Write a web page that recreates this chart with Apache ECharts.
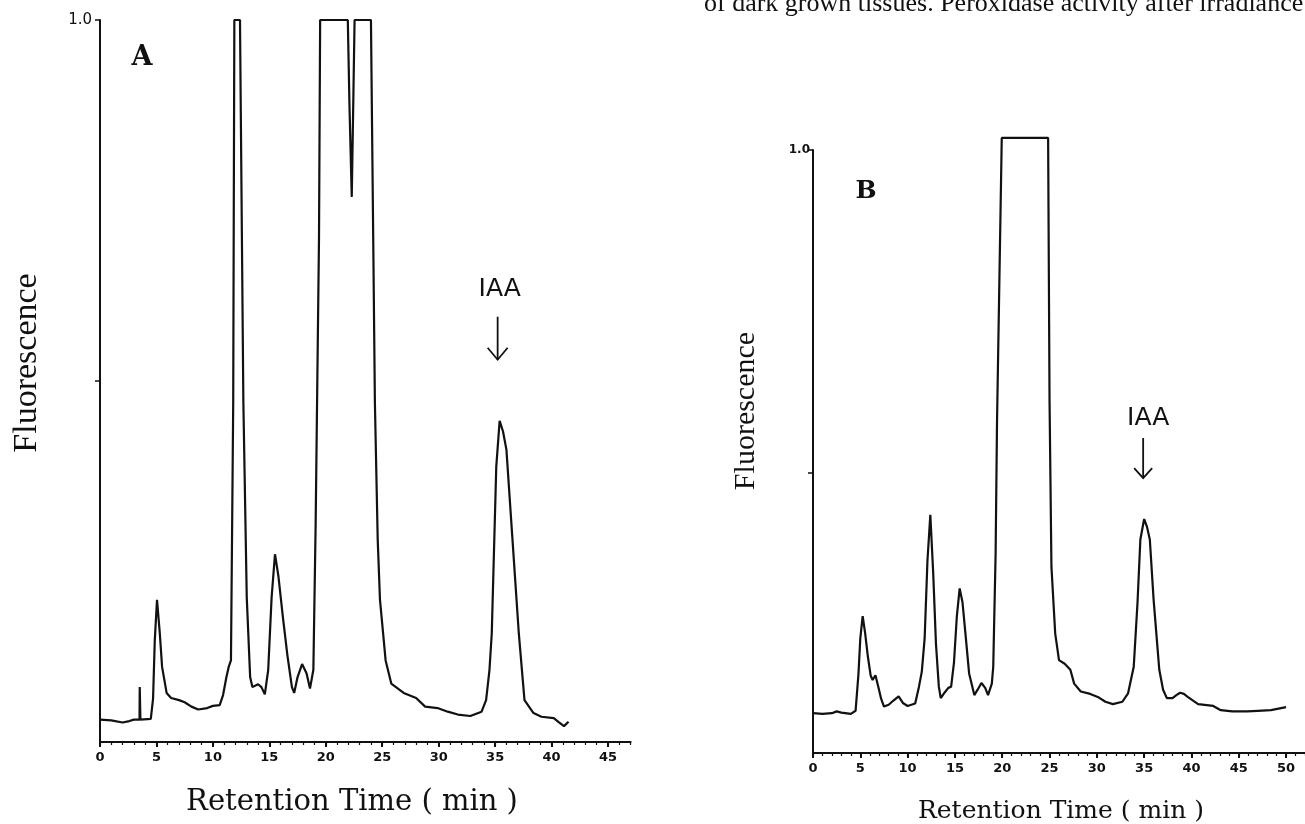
<!DOCTYPE html>
<html>
<head>
<meta charset="utf-8">
<script src="https://cdn.jsdelivr.net/npm/echarts@6/dist/echarts.min.js"></script>
<style>
html,body{margin:0;padding:0;background:#fff;}
#c{width:1305px;height:824px;}
</style>
</head>
<body>
<div id="c"></div>
<script>
// ---------- data ----------
const timeA = [0,1,2,2.6,3,3.5,3.52,3.56,3.58,4.5,4.7,4.85,5.05,5.3,5.5,5.9,6.3,7.0,7.5,8.1,8.7,9.5,10.0,10.6,10.9,11.2,11.4,11.6,11.8,11.9,12.4,12.7,13.0,13.3,13.5,14.0,14.3,14.6,14.9,15.2,15.5,15.8,16.2,16.6,17.0,17.2,17.5,17.9,18.3,18.6,18.9,19.1,19.4,19.5,21.95,22.1,22.3,22.45,22.55,24.0,24.2,24.35,24.6,24.8,25.3,25.8,26.9,28.0,28.8,29.9,30.8,31.7,32.8,33.8,34.2,34.5,34.7,35.1,35.4,35.7,36.0,36.5,37.1,37.6,38.4,39.1,40.2,40.6,41.1,41.5];
const valueA = [0.031,0.030,0.027,0.029,0.031,0.031,0.076,0.076,0.031,0.032,0.06,0.14,0.197,0.15,0.104,0.068,0.061,0.058,0.055,0.049,0.045,0.047,0.050,0.051,0.065,0.09,0.104,0.113,0.47,1.0,1.0,0.47,0.2,0.09,0.076,0.080,0.076,0.066,0.10,0.20,0.260,0.23,0.173,0.12,0.076,0.068,0.09,0.108,0.095,0.074,0.10,0.3,0.7,1.0,1.0,0.88,0.755,0.9,1.0,1.0,0.7,0.47,0.28,0.197,0.113,0.081,0.068,0.061,0.049,0.047,0.042,0.038,0.036,0.042,0.058,0.10,0.150,0.381,0.445,0.43,0.405,0.289,0.150,0.058,0.040,0.035,0.033,0.028,0.022,0.028];

const timeB = [0,1,2,2.5,3,4,4.5,4.8,5.0,5.25,5.5,5.8,6.1,6.3,6.6,6.9,7.2,7.5,8.0,8.5,9.05,9.5,10.0,10.8,11.2,11.5,11.8,12.1,12.4,12.7,13.0,13.3,13.5,13.9,14.3,14.6,14.9,15.2,15.5,15.8,16.1,16.5,17.05,17.4,17.8,18.2,18.5,18.9,19.05,19.3,19.45,19.95,24.85,25.0,25.2,25.6,26.0,26.6,27.2,27.6,28.3,29.3,30.1,30.9,31.7,32.7,33.3,33.9,34.3,34.6,35.0,35.3,35.6,36.0,36.6,37.0,37.4,38.0,38.4,38.8,39.2,39.6,40.7,42.3,43.1,44.3,45.9,47,48.4,50.0];
const valueB = [0.066,0.065,0.066,0.069,0.067,0.065,0.070,0.13,0.19,0.227,0.20,0.16,0.128,0.121,0.129,0.11,0.090,0.077,0.080,0.087,0.094,0.083,0.078,0.082,0.11,0.135,0.19,0.32,0.395,0.3,0.18,0.11,0.091,0.10,0.108,0.11,0.15,0.226,0.273,0.25,0.2,0.132,0.096,0.105,0.116,0.108,0.096,0.115,0.143,0.33,0.55,1.02,1.02,0.585,0.309,0.198,0.154,0.148,0.138,0.115,0.102,0.098,0.093,0.085,0.081,0.085,0.099,0.143,0.25,0.354,0.388,0.375,0.354,0.254,0.138,0.105,0.091,0.091,0.096,0.100,0.098,0.093,0.081,0.078,0.071,0.069,0.069,0.070,0.071,0.076];

const xTicksA = [0,5,10,15,20,25,30,35,40,45];
const xTicksB = [0,5,10,15,20,25,30,35,40,45,50];
const yLabelValues = [1.0];
const yTicksA = [0.5, 1.0];
const yTicksB = [0.465, 1.0];
const iaaPeakA = [35.4, 0.445];
const iaaPeakB = [35.0, 0.388];

const panelNames = ['A', 'B'];
const peakName = 'IAA';
const xTitle = 'Retention Time ( min )';
const yTitle = 'Fluorescence';
const captionText = 'of dark grown tissues. Peroxidase activity after irradiance';

// ---------- chart ----------
const chart = echarts.init(document.getElementById('c'), null, {renderer: 'canvas'});
const INK = '#111';
const tickLabelStyle = {color: INK, fontFamily: 'DejaVu Sans', fontWeight: 'bold', fontSize: 13};

function mainX(gridIndex, max, ticks) {
  return {
    gridIndex: gridIndex, type: 'value', min: 0, max: max, interval: 5,
    axisLine: {show: true, onZero: false, lineStyle: {color: INK, width: 2}},
    axisTick: {show: true, length: 5, customValues: ticks, lineStyle: {color: INK, width: 2}},
    axisLabel: {show: true, margin: 9, customValues: ticks, ...tickLabelStyle},
    splitLine: {show: false}
  };
}
function minorX(gridIndex, max) {
  return {
    gridIndex: gridIndex, type: 'value', min: 0, max: max, interval: 1, position: 'bottom',
    axisLine: {show: false},
    axisTick: {show: true, length: 3, lineStyle: {color: INK, width: 1.2}},
    axisLabel: {show: false},
    splitLine: {show: false}
  };
}
function mainY(gridIndex, ticks, labelStyle) {
  return {
    gridIndex: gridIndex, type: 'value', min: 0, max: 1,
    axisLine: {show: true, onZero: false, lineStyle: {color: INK, width: 2}},
    axisTick: {show: true, length: 5, customValues: ticks, lineStyle: {color: INK, width: 1.5}},
    axisLabel: Object.assign({show: true, customValues: yLabelValues,
      formatter: function (v) { return v.toFixed(1); }}, labelStyle),
    splitLine: {show: false}
  };
}

const option = {
  animation: false,
  backgroundColor: '#fff',
  grid: [
    {left: 100, top: 20, width: 530.6, height: 722},
    {left: 813, top: 150, width: 494, height: 603}
  ],
  xAxis: [mainX(0, 47, xTicksA), mainX(1, 52, xTicksB), minorX(0, 47), minorX(1, 52)],
  yAxis: [
    mainY(0, yTicksA, {color: INK, fontFamily: 'DejaVu Sans', fontSize: 15, margin: 8, padding: [9, 0, 0, 0]}),
    mainY(1, yTicksB, {color: INK, fontFamily: 'DejaVu Sans', fontWeight: 'bold', fontSize: 12, margin: 3, padding: [11, 0, 0, 0]})
  ],
  series: [
    {type: 'line', xAxisIndex: 0, yAxisIndex: 0, data: timeA.map((t, i) => [t, valueA[i]]),
     showSymbol: false, symbol: 'none', clip: false, lineStyle: {color: INK, width: 2.2}},
    {type: 'line', xAxisIndex: 1, yAxisIndex: 1, data: timeB.map((t, i) => [t, valueB[i]]),
     showSymbol: false, symbol: 'none', clip: false, lineStyle: {color: INK, width: 2.2}}
  ]
};
chart.setOption(option);

function arrow(x, yTop, yTip, hw, hh) {
  return [
    {type: 'line', shape: {x1: x, y1: yTop, x2: x, y2: yTip}, style: {stroke: INK, lineWidth: 1.8}},
    {type: 'polyline', shape: {points: [[x - hw, yTip - hh], [x, yTip], [x + hw, yTip - hh]]},
     style: {stroke: INK, lineWidth: 1.8, fill: null}}
  ];
}
function txt(x, y, text, font, extra) {
  return Object.assign({type: 'text', x: x, y: y,
    style: Object.assign({text: text, fill: INK, align: 'center', verticalAlign: 'middle',
      textAlign: 'center', textVerticalAlign: 'middle'}, font)}, extra || {});
}

const pA = chart.convertToPixel({gridIndex: 0}, iaaPeakA);
const pB = chart.convertToPixel({gridIndex: 1}, iaaPeakB);

const graphics = [
  txt(704, 4, captionText, {fontFamily: 'Liberation Serif', fontSize: 26, align: 'left', textAlign: 'left'}),
  txt(142, 58, panelNames[0], {fontFamily: 'DejaVu Serif', fontWeight: 'bold', fontSize: 27}),
  txt(866, 191, panelNames[1], {fontFamily: 'DejaVu Serif', fontWeight: 'bold', fontSize: 25}),
  txt(27, 363, yTitle, {fontFamily: 'Liberation Serif', fontSize: 34}, {rotation: Math.PI / 2}),
  txt(746, 411, yTitle, {fontFamily: 'Liberation Serif', fontSize: 30}, {rotation: Math.PI / 2}),
  txt(352, 802, xTitle, {fontFamily: 'DejaVu Serif', fontSize: 29}),
  txt(1061, 811, xTitle, {fontFamily: 'DejaVu Serif', fontSize: 25}),
  txt(pA[0], pA[1] - 131, peakName, {fontFamily: 'DejaVu Sans', fontSize: 25}),
  txt(pB[0] + 4, pB[1] - 101, peakName, {fontFamily: 'DejaVu Sans', fontSize: 25})
].concat(arrow(pA[0] - 2, pA[1] - 104, pA[1] - 61, 10, 12))
 .concat(arrow(pB[0] - 1, pB[1] - 81, pB[1] - 41, 9, 10));

chart.setOption({graphic: graphics});
</script>
</body>
</html>
